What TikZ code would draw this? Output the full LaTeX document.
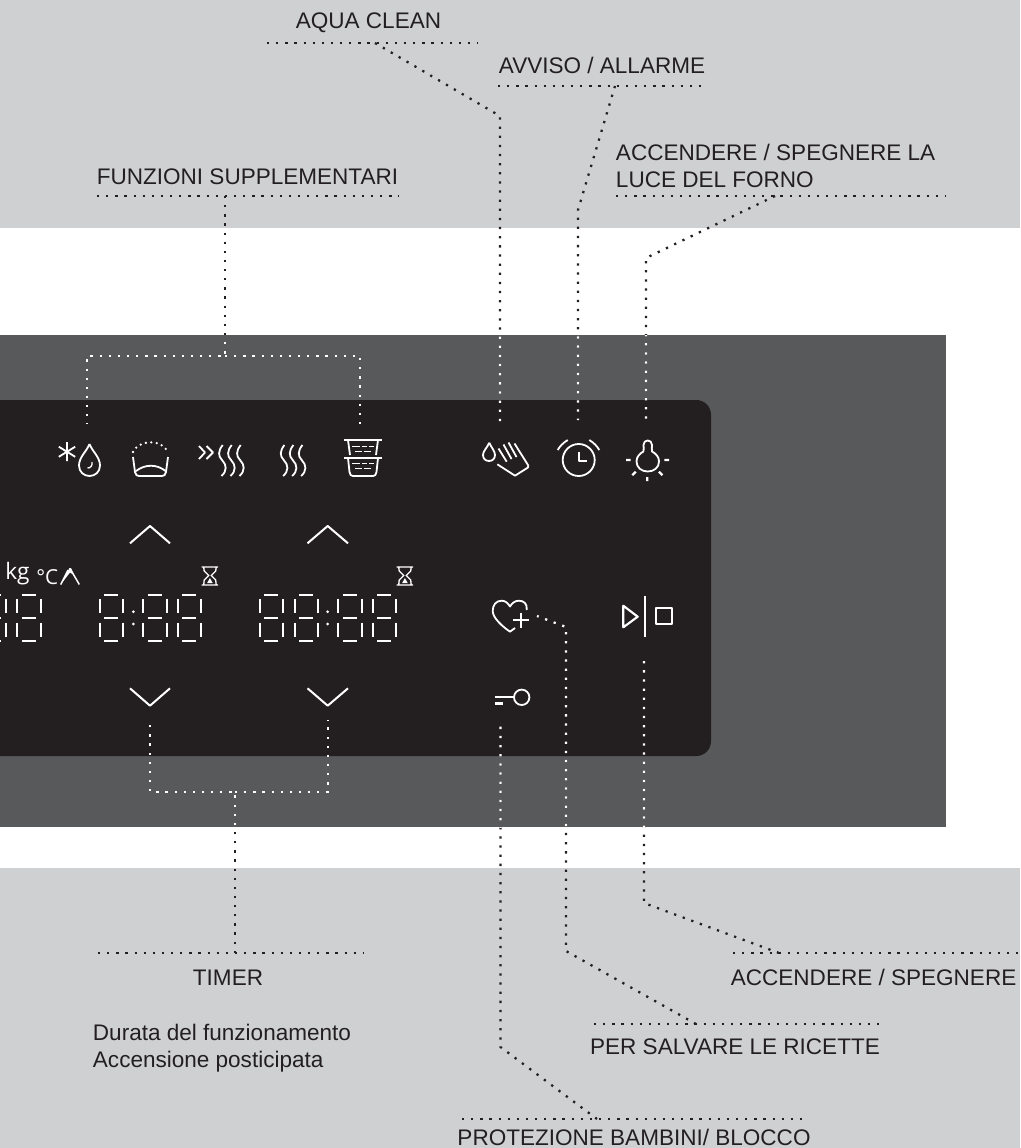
\documentclass[tikz,border=0pt]{standalone}
\usepackage{fontspec}
\setmainfont{Liberation Sans}
\newfontfamily\panelfont{Open Sans}
\definecolor{band}{HTML}{CFD0D2}
\definecolor{panel}{HTML}{58595B}
\definecolor{face}{HTML}{231F20}
\definecolor{ink}{HTML}{231F20}
\tikzset{
  dots/.style={draw=ink,line width=1.7pt,line cap=butt,dash pattern=on 1.7pt off 5.15pt},
  dotw/.style={draw=white,line width=1.7pt,line cap=butt,dash pattern=on 1.7pt off 5.15pt},
  icon/.style={draw=white,line width=1.35pt,line cap=butt,line join=round},
  thin icon/.style={draw=white,line width=1pt},
  lab/.style={inner sep=0pt,text=ink,anchor=base,font=\fontsize{16.9}{20}\selectfont},
}
\newcommand{\conn}[1]{%
  \draw[dots] #1;
  \begin{scope}
    \clip (0,335) rectangle (946,827);
    \draw[dotw] #1;
  \end{scope}}
\newcommand{\sevenseg}[1]{%
  \begin{scope}[xshift=#1*0.75pt]
    \draw[icon,line width=1.5pt] (4.4,595)--(18.4,595) (4.4,617.7)--(18.4,617.7) (4.4,640.7)--(18.4,640.7)
      (0,599)--(0,613) (23.3,599)--(23.3,613) (0,622.7)--(0,636.7) (23.3,622.7)--(23.3,636.7);
  \end{scope}}
\newcommand{\waves}[1]{%
  \begin{scope}[xshift=#1*0.75pt]
    \foreach \d in {0,9,18}
      \draw[icon] (222.7+\d,445) .. controls (218+\d,451) and (218+\d,456) .. (222+\d,460)
        .. controls (227+\d,465) and (227+\d,471) .. (221.5+\d,476);
  \end{scope}}
\begin{document}
\begin{tikzpicture}[x=0.75pt,y=-0.75pt]
\useasboundingbox (0,0) rectangle (1020,1148);
\fill[white] (0,0) rectangle (1020,1148);
\fill[band] (0,0) rectangle (1020,228);
\fill[band] (0,868) rectangle (1020,1148);
\fill[panel] (0,335) rectangle (946,827);
\fill[face,rounded corners=11pt] (-30,400) rectangle (711,756);

% labels
\node[lab] (aqua) at (368.5,29) {AQUA CLEAN};
\node[lab] (avviso) at (602,74) {AVVISO / ALLARME};
\node[lab,anchor=base west] (luce1) at (615.7,161) {ACCENDERE / SPEGNERE LA};
\node[lab,anchor=base west] (luce2) at (615.7,187.7) {LUCE DEL FORNO};
\node[lab] (funz) at (247.5,185) {FUNZIONI SUPPLEMENTARI};
\node[lab] (timer) at (228,985.7) {TIMER};
\node[lab,anchor=base west] (durata) at (92.7,1040.7) {Durata del funzionamento};
\node[lab,anchor=base west] (accens) at (92.7,1067.3) {Accensione posticipata};
\node[lab] (onoff) at (873.6,985) {ACCENDERE / SPEGNERE};
\node[lab] (salva) at (735,1054) {PER SALVARE LE RICETTE};
\node[lab] (prot) at (634,1145) {PROTEZIONE BAMBINI/ BLOCCO};

% rules
\coordinate (aquaL) at (267,43);  \coordinate (aquaR) at (478,43);  \coordinate (aquaT) at (375,43);
\coordinate (avvL) at (498,86);   \coordinate (avvR) at (707,86);   \coordinate (avvT) at (615,86);
\coordinate (luceL) at (616,196); \coordinate (luceR) at (946,196); \coordinate (luceT) at (775,196);
\coordinate (funL) at (97,196);   \coordinate (funR) at (399,196);  \coordinate (funT) at (225,196);
\coordinate (timL) at (98,953);   \coordinate (timR) at (363,953);  \coordinate (timT) at (235,953);
\coordinate (onL) at (733,953);   \coordinate (onR) at (1020,953);  \coordinate (onT) at (779,953);
\coordinate (salL) at (594,1024); \coordinate (salR) at (879,1024); \coordinate (salT) at (696,1024);
\coordinate (proL) at (462,1119); \coordinate (proR) at (809,1119); \coordinate (proT) at (597,1119);
\foreach \a/\b in {aquaL/aquaR,avvL/avvR,luceL/luceR,funL/funR,timL/timR,onL/onR,salL/salR,proL/proR}
  \draw[dots] (\a) -- (\b);

% connectors, upper
\coordinate (aquaK) at (500,116);  \coordinate (handE) at (500,422);
\coordinate (avvK) at (578,210);   \coordinate (clockE) at (578,420);
\coordinate (luceK) at (646,258);  \coordinate (bulbE) at (646,425);
\coordinate (funK) at (225,356);
\coordinate (brL) at (87,356); \coordinate (brR) at (360,356);
\coordinate (dropE) at (87,424); \coordinate (basketE) at (360,424);
\conn{(aquaT) -- (aquaK) -- (handE)}
\conn{(avvT) -- (avvK) -- (clockE)}
\conn{(luceT) -- (luceK) -- (bulbE)}
\conn{(funT) -- (funK) -- (brL) -- (dropE)}
\conn{(funK) -- (brR) -- (basketE)}

% connectors, lower
\coordinate (timK) at (235,792);
\coordinate (tbL) at (150,792); \coordinate (tbR) at (328,792);
\coordinate (downL) at (150,720); \coordinate (downR) at (328,720);
\conn{(timT) -- (timK) -- (tbL) -- (downL)}
\conn{(timK) -- (tbR) -- (downR)}
\coordinate (onK) at (644,903); \coordinate (playE) at (644,661);
\conn{(onT) -- (onK) -- (playE)}
\coordinate (salK) at (566,951); \coordinate (heartK) at (566,627); \coordinate (heartE) at (537,616);
\conn{(salT) -- (salK) -- (heartK) -- (heartE)}
\coordinate (proK) at (500.5,1047); \coordinate (keyE) at (500.5,721);
\conn{(proT) -- (proK) -- (keyE)}

% star + drop
\draw[icon] (67,442)--(67,461) (58.8,446.7)--(75.2,456.8) (58.8,456.8)--(75.2,446.7);
\draw[icon] (89.5,444) .. controls (87,451) and (79,457) .. (79,465.5)
  .. controls (79,472) and (84,476) .. (89.5,476)
  .. controls (95,476) and (100,472) .. (100,465.5)
  .. controls (100,457) and (92,451) .. (89.5,444);
\draw[thin icon] (92,462) .. controls (92.5,466) and (90.5,468) .. (87.5,468);

% dome
\draw[draw=white,line width=1.9pt,line cap=round,dash pattern=on 0pt off 4.1pt] (133,452) .. controls (138,440) and (162,438) .. (167.5,452);
\draw[icon] (133,457) -- (135,472) .. controls (135.5,475) and (137,476) .. (139,476) -- (162,476)
  .. controls (164,476) and (165.5,475) .. (166,472) -- (168,457);
\draw[icon] (136,471) .. controls (145,464) and (157,464) .. (165.5,471);

% double chevron + waves
\draw[icon] (199,446)--(205,452.5)--(199,459) (206.5,446)--(213,452.5)--(206.5,459);
\waves{0}
\waves{61.7}

% stacked baskets
\draw[icon] (344,440)--(382,440) (344,457.7)--(382,457.7);
\draw[icon] (348,440)--(350,455) (378,440)--(376,455);
\draw[icon] (348,458) -- (349.5,472) .. controls (350,475) and (351,476) .. (353,476) -- (373,476)
  .. controls (375,476) and (376,475) .. (376.5,472) -- (378,458);
\foreach \y in {0,16.5}{
  \draw[thin icon] (352,446.7+\y)--(360,446.7+\y) (362,446.7+\y)--(367,446.7+\y) (369,446.7+\y)--(374,446.7+\y)
    (355,451.7+\y)--(362,451.7+\y) (364,451.7+\y)--(371,451.7+\y);
}

% hand + drop
\draw[icon] (489.3,442.7) .. controls (487,448) and (483,451) .. (483,455)
  .. controls (483,458.5) and (485.5,461) .. (489,461)
  .. controls (492.5,461) and (495,458.5) .. (495,455)
  .. controls (495,451) and (491.5,448) .. (489.3,442.7);
\draw[icon] (498.5,448.5)--(506.7,461.7) (503.5,444.5)--(511.5,459) (508.5,442.5)--(516.5,457)
  (514.5,443.5) -- (528.3,465.5) -- (528,467.5) -- (515,475.7) -- (497.3,464.3);

% clock
\draw[icon] (578.7,460) circle[radius=16];
\draw[icon] (578.7,452)--(578.7,460.7)--(586.7,460.7);
\draw[icon] (557.7,450) .. controls (560,446) and (563,443) .. (567.7,440);
\draw[icon] (589.3,440) .. controls (594,443) and (597,446) .. (599.3,450);

% bulb
\draw[icon] (643.5,451.5) .. controls (644,449) and (643.5,447) .. (643.5,445)
  .. controls (643.5,442) and (645.5,440.5) .. (647.7,440.5)
  .. controls (650,440.5) and (652,442) .. (652,445)
  .. controls (652,447) and (651.5,449) .. (652,451.5)
  .. controls (656,453.5) and (659,457) .. (659,461.5)
  .. controls (659,467.5) and (654,471.5) .. (647.7,471.5)
  .. controls (641.5,471.5) and (636.5,467.5) .. (636.5,461.5)
  .. controls (636.5,457) and (639.5,453.5) .. (643.5,451.5);
\draw[icon,line width=1.7pt] (626,460)--(630.7,460) (664.3,460)--(669,460) (632.3,475.2)--(635.7,471.7)
  (659,471.7)--(662.4,475.2) (647.3,477)--(647.3,481);

% arrows
\draw[icon,line width=1.5pt] (130,543.3)--(150,526)--(170,543.3);
\draw[icon,line width=1.5pt] (307.5,543.3)--(327.7,526)--(348,543.3);
\draw[icon,line width=1.5pt] (130,688.3)--(150,705.7)--(170,688.3);
\draw[icon,line width=1.5pt] (307.5,688.3)--(327.7,705.7)--(348,688.3);

% units
\node[inner sep=0pt,anchor=base west,text=white,font=\panelfont\fontsize{17}{18}\selectfont] (kg) at (5,579) {kg};
\node[inner sep=0pt,anchor=base west,text=white,font=\panelfont\fontsize{15.5}{16}\selectfont] (degc) at (36,584) {°C};
\draw[icon,line width=1.1pt] (60.7,584.5)--(68,570);
\fill[white] (60.7,584.5)--(69.5,568)--(71,568)--(74,575)--(70,572.5)--cycle;
\draw[icon,line width=1.1pt] (70,568.5)--(79.3,584.5);

% hourglasses
\foreach \x in {201.7,396.7}{
  \draw[thin icon] (\x,567)--(\x+16.5,567) (\x,585)--(\x+16.5,585)
    (\x+2,567) -- (\x+2.5,571) -- (\x+7,575.5) -- (\x+2.5,580) -- (\x+2,585)
    (\x+14.5,567) -- (\x+14,571) -- (\x+9.5,575.5) -- (\x+14,580) -- (\x+14.5,585);
  \fill[white] (\x+8.2,578) -- (\x+11,583) -- (\x+5.5,583) -- cycle;
}

% seven-segment digits
\foreach \x in {-17,17.3,100,143.3,177.7,260,295,338.3,372.7} {\sevenseg{\x}}
\fill[white] (133.3,611.7) circle[radius=1.5] (133.3,624) circle[radius=1.5]
  (327.7,611.7) circle[radius=1.5] (327.7,624) circle[radius=1.5];

% heart +
\draw[icon] (526.7,610) .. controls (527.5,604) and (524,600.7) .. (519,600.7)
  .. controls (515,600.7) and (512,603) .. (510,606.5)
  .. controls (508,603) and (505,600.7) .. (501.7,600.7)
  .. controls (496,600.7) and (492.7,605) .. (492.7,611)
  .. controls (492.7,618) and (503,627) .. (510,631.7) -- (515,628);
\draw[icon] (520.7,612.5)--(520.7,627.5) (513,620)--(528.5,620);

% key
\draw[icon] (521.7,697.3) circle[radius=7.7];
\draw[icon] (495,697.3)--(514,697.3);
\draw[icon,line width=2.4pt] (495,703.3)--(503,703.3);

% play | stop
\draw[icon,line width=1.6pt] (623.3,605.7)--(637.7,616.7)--(623.3,627.3)--cycle;
\draw[icon,line width=1.7pt] (645.3,596)--(645.3,636.7);
\draw[icon,line width=1.6pt] (655.7,608.3) rectangle (672,624);
\end{tikzpicture}
\end{document}
